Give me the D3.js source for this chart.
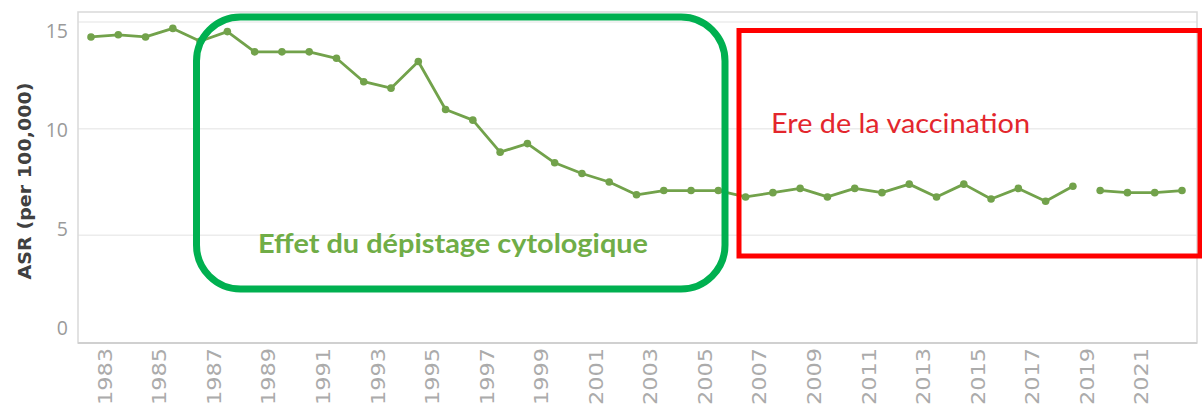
<!DOCTYPE html>
<html>
<head>
<meta charset="utf-8">
<script src="https://cdn.jsdelivr.net/npm/d3@7"></script>
<style>
  html, body { margin: 0; padding: 0; background: #fff; }
  svg { display: block; }
</style>
</head>
<body>
<div id="chart"></div>
<script>
// --- Data ---
const years = d3.range(1982, 2023);
const asr = [
  14.3, 14.4, 14.3, 14.7, 14.1, 14.55, 13.6, 13.6, 13.6, 13.3,
  12.2, 11.9, 13.15, 10.9, 10.4, 8.9, 9.3, 8.4, 7.9, 7.5,
  6.9, 7.1, 7.1, 7.1, 6.8, 7.0, 7.2, 6.8, 7.2, 7.0,
  7.4, 6.8, 7.4, 6.7, 7.2, 6.6, 7.3, 7.1, 7.0, 7.0,
  7.1
];
// the line is broken between these two runs
const segments = [[1982, 2018], [2019, 2022]];
const yTicks = [0, 5, 10, 15];
const xTickYears = d3.range(1983, 2022, 2);

const yTitle = 'ASR (per 100,000)';
const screeningLabel = 'Effet du dépistage cytologique';
const vaccineLabel = 'Ere de la vaccination';

// --- Layout ---
const width = 1202;
const height = 405;
const plot = { left: 78, right: 1197, top: 12, bottom: 343 };

const svg = d3.select('#chart').append('svg')
  .attr('width', width)
  .attr('height', height);

const x = d3.scaleLinear().domain([1982, 2022]).range([91, 1182]);
const y = d3.scaleLinear().domain([0, 15]).range([342, 22]);
// tick labels sit a little off the grid lines in the original
const yLabel = d3.scaleLinear().domain([0, 15]).range([328, 31]);

// --- Grid + frame ---
svg.append('g')
  .selectAll('line')
  .data(yTicks.filter(d => d > 0))
  .join('line')
  .attr('x1', plot.left).attr('x2', plot.right)
  .attr('y1', d => y(d)).attr('y2', d => y(d))
  .attr('stroke', '#ececec')
  .attr('stroke-width', 1.5);

svg.append('rect')
  .attr('x', plot.left)
  .attr('y', plot.top)
  .attr('width', plot.right - plot.left)
  .attr('height', plot.bottom - plot.top)
  .attr('fill', 'none')
  .attr('stroke', '#d9d9d9')
  .attr('stroke-width', 1.5);

svg.append('line')
  .attr('x1', plot.left).attr('x2', plot.right)
  .attr('y1', plot.bottom).attr('y2', plot.bottom)
  .attr('stroke', '#d0d0d0')
  .attr('stroke-width', 2);

// --- Y axis labels ---
svg.append('g')
  .selectAll('text')
  .data(yTicks)
  .join('text')
  .attr('x', 68)
  .attr('y', d => yLabel(d))
  .attr('dy', '0.35em')
  .attr('text-anchor', 'end')
  .attr('font-family', '"Open Sans", sans-serif')
  .attr('font-size', 19.5)
  .attr('fill', '#9a9a9a')
  .text(d => d);

svg.append('text')
  .attr('transform', 'translate(25,181) rotate(-90)')
  .attr('text-anchor', 'middle')
  .attr('dy', '0.35em')
  .attr('font-family', '"DejaVu Sans", sans-serif')
  .attr('font-weight', 'bold')
  .attr('font-size', 18.5)
  .attr('fill', '#404040')
  .attr('textLength', 197)
  .attr('lengthAdjust', 'spacingAndGlyphs')
  .text(yTitle);

// --- X axis labels ---
svg.append('g')
  .selectAll('text')
  .data(xTickYears)
  .join('text')
  .attr('transform', d => `translate(${x(d - 0.5)},348) rotate(-90) scale(1.12,1)`)
  .attr('text-anchor', 'end')
  .attr('dy', '0.36em')
  .attr('font-family', '"DejaVu Sans", sans-serif')
  .attr('font-size', 20)
  .attr('fill', '#ababab')
  .text(d => d);

// --- Line + points ---
const series = years.map((yr, i) => ({ year: yr, value: asr[i] }));
const line = d3.line().x(d => x(d.year)).y(d => y(d.value));
const lineColor = '#72a24b';

svg.append('g')
  .selectAll('path')
  .data(segments.map(([a, b]) => series.filter(d => d.year >= a && d.year <= b)))
  .join('path')
  .attr('d', line)
  .attr('fill', 'none')
  .attr('stroke', lineColor)
  .attr('stroke-width', 2.8)
  .attr('stroke-linejoin', 'round');

svg.append('g')
  .selectAll('circle')
  .data(series)
  .join('circle')
  .attr('cx', d => x(d.year))
  .attr('cy', d => y(d.value))
  .attr('r', 3.8)
  .attr('fill', lineColor);

// --- Annotations ---
svg.append('rect')
  .attr('x', 196.5).attr('y', 17)
  .attr('width', 528.5).attr('height', 272)
  .attr('rx', 44).attr('ry', 44)
  .attr('fill', 'none')
  .attr('stroke', '#00b050')
  .attr('stroke-width', 7);

svg.append('text')
  .attr('x', 258).attr('y', 253)
  .attr('font-family', 'Lato, sans-serif')
  .attr('font-weight', 'bold')
  .attr('font-size', 26)
  .attr('fill', '#70ad47')
  .attr('textLength', 390)
  .attr('lengthAdjust', 'spacingAndGlyphs')
  .text(screeningLabel);

svg.append('rect')
  .attr('x', 739).attr('y', 30.5)
  .attr('width', 461).attr('height', 225.5)
  .attr('fill', 'none')
  .attr('stroke', '#ff0000')
  .attr('stroke-width', 5);

svg.append('text')
  .attr('x', 771).attr('y', 133)
  .attr('font-family', 'Lato, sans-serif')
  .attr('font-size', 27)
  .attr('fill', '#e3262d')
  .attr('textLength', 259)
  .attr('lengthAdjust', 'spacingAndGlyphs')
  .text(vaccineLabel);
</script>
</body>
</html>
